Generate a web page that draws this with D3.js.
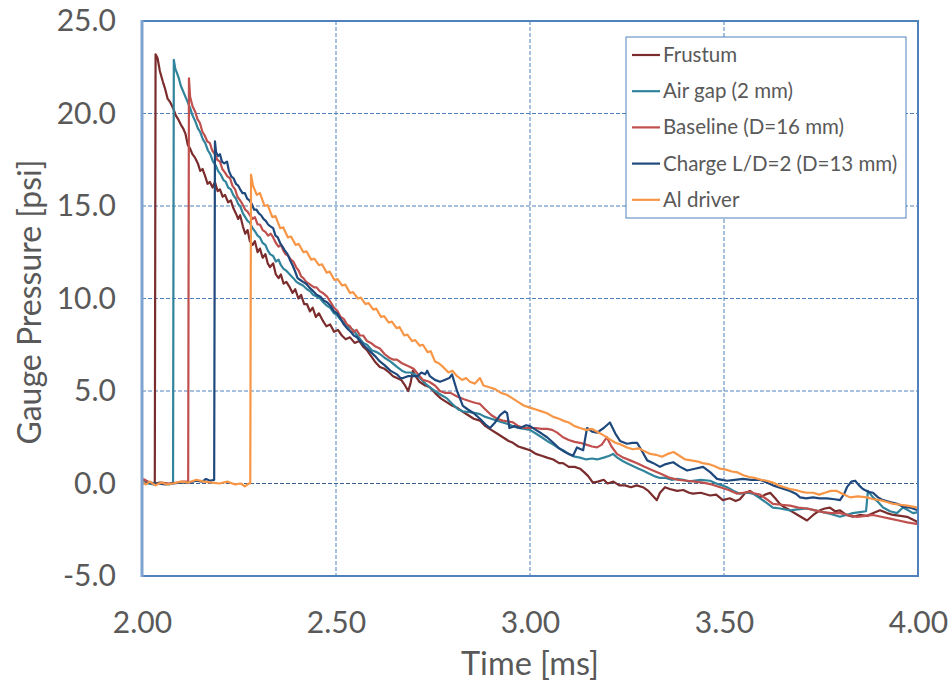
<!DOCTYPE html>
<html><head><meta charset="utf-8">
<script src="https://cdn.jsdelivr.net/npm/d3@7"></script>
<style>body{margin:0;background:#fff}svg{display:block}text{font-family:Lato,"Open Sans",sans-serif;fill:#595959}</style>
</head><body><svg id="c" width="952" height="683"></svg>
<script>
const seriesNames = ["Frustum","Air gap (2 mm)","Baseline (D=16 mm)","Charge L/D=2 (D=13 mm)","Al driver"];
const seriesColors = ["#7B2C2C","#31849B","#C0504D","#1F497D","#F79646"];
const xTicks = [2.0,2.5,3.0,3.5,4.0];
const yTicks = [-5,0,5,10,15,20,25];

const frustum = [[2.000,0.2],[2.010,0.15],[2.020,0.05],[2.030,0.0],[2.033,0.05],[2.035,23.2],[2.040,23.0],[2.046,22.3],[2.054,21.7],[2.060,21.3],[2.066,20.8],[2.073,20.6],[2.080,20.3],[2.087,19.9],[2.093,19.7],[2.100,19.4],[2.106,19.2],[2.112,18.9],[2.118,18.3],[2.124,18.1],[2.130,17.8],[2.137,17.6],[2.144,17.3],[2.150,16.9],[2.156,17.0],[2.163,16.6],[2.169,16.2],[2.175,16.3],[2.182,16.0],[2.188,16.3],[2.195,15.8],[2.201,15.9],[2.208,15.5],[2.214,15.6],[2.222,15.2],[2.229,15.3],[2.235,14.9],[2.242,14.6],[2.248,14.3],[2.253,14.5],[2.260,13.9],[2.266,13.5],[2.272,13.7],[2.278,13.1],[2.285,12.9],[2.291,13.1],[2.298,12.5],[2.304,12.7],[2.311,12.2],[2.318,12.4],[2.324,11.9],[2.330,11.7],[2.338,11.9],[2.345,11.3],[2.352,11.1],[2.358,11.3],[2.365,10.8],[2.372,10.9],[2.381,10.6],[2.388,10.3],[2.395,10.5],[2.403,10.0],[2.410,10.2],[2.418,9.7],[2.425,9.7],[2.433,9.3],[2.440,9.5],[2.448,9.0],[2.456,9.2],[2.466,8.8],[2.475,8.5],[2.485,8.6],[2.495,8.2],[2.505,8.3],[2.515,8.0],[2.525,7.8],[2.536,7.9],[2.548,7.6],[2.560,7.7],[2.570,7.4],[2.580,7.2],[2.590,6.9],[2.600,6.6],[2.613,6.3],[2.625,6.2],[2.637,6.0],[2.647,5.8],[2.657,5.7],[2.668,5.6],[2.678,5.3],[2.686,5.0],[2.692,5.4],[2.698,6.1],[2.705,5.8],[2.715,5.5],[2.730,5.3],[2.742,5.2],[2.755,4.9],[2.770,4.6],[2.785,4.4],[2.800,4.2],[2.812,4.1],[2.825,3.9],[2.840,3.7],[2.855,3.5],[2.871,3.4],[2.885,3.1],[2.900,2.9],[2.915,2.7],[2.930,2.5],[2.945,2.3],[2.956,2.2],[2.970,2.0],[2.985,1.9],[3.000,1.8],[3.015,1.6],[3.030,1.5],[3.044,1.4],[3.060,1.3],[3.075,1.1],[3.085,1.1],[3.100,0.9],[3.115,0.9],[3.129,0.8],[3.140,0.6],[3.150,0.4],[3.162,0.05],[3.175,0.1],[3.190,0.2],[3.200,0.0],[3.215,0.1],[3.230,-0.1],[3.245,-0.1],[3.260,-0.2],[3.275,-0.1],[3.291,-0.2],[3.305,-0.4],[3.318,-0.7],[3.327,-0.9],[3.335,-0.5],[3.348,-0.2],[3.360,-0.3],[3.379,-0.4],[3.395,-0.35],[3.410,-0.5],[3.420,-0.55],[3.440,-0.5],[3.464,-0.65],[3.480,-0.6],[3.497,-0.9],[3.515,-0.8],[3.530,-0.95],[3.541,-0.85],[3.555,-0.5],[3.567,-0.4],[3.580,-0.6],[3.593,-0.75],[3.606,-0.6],[3.619,-0.5],[3.632,-0.8],[3.644,-1.1],[3.657,-1.3],[3.670,-1.45],[3.690,-1.7],[3.714,-2.0],[3.730,-1.7],[3.747,-1.45],[3.760,-1.35],[3.773,-1.3],[3.786,-1.5],[3.799,-1.45],[3.815,-1.7],[3.832,-1.8],[3.850,-1.7],[3.869,-1.75],[3.885,-1.6],[3.902,-1.45],[3.920,-1.6],[3.936,-1.7],[3.955,-1.75],[3.972,-1.8],[3.986,-1.95],[4.000,-2.1]];

const airGap = [[2.000,0.1],[2.015,0.0],[2.030,-0.05],[2.045,0.05],[2.060,0.0],[2.070,-0.05],[2.080,0.05],[2.082,22.9],[2.086,22.4],[2.090,22.2],[2.095,21.9],[2.100,21.5],[2.106,21.2],[2.112,20.9],[2.118,20.6],[2.124,20.3],[2.130,19.9],[2.137,19.6],[2.144,19.2],[2.150,19.0],[2.157,18.6],[2.163,18.4],[2.170,18.0],[2.176,17.8],[2.183,17.4],[2.190,17.2],[2.196,16.9],[2.203,16.7],[2.210,16.4],[2.216,16.3],[2.222,16.0],[2.229,15.9],[2.235,15.6],[2.242,15.4],[2.248,15.1],[2.253,15.0],[2.260,14.6],[2.266,14.4],[2.272,14.2],[2.278,14.1],[2.285,13.8],[2.292,13.6],[2.298,13.4],[2.304,13.3],[2.311,13.0],[2.318,12.9],[2.324,12.6],[2.330,12.4],[2.338,12.3],[2.345,12.0],[2.352,12.1],[2.358,11.8],[2.365,11.6],[2.372,11.5],[2.381,11.3],[2.390,11.1],[2.398,10.9],[2.406,10.8],[2.415,10.7],[2.425,10.5],[2.433,10.4],[2.441,10.2],[2.450,10.1],[2.459,10.0],[2.467,9.8],[2.477,9.6],[2.485,9.5],[2.495,9.2],[2.503,9.1],[2.510,8.9],[2.520,8.7],[2.530,8.5],[2.544,8.3],[2.555,8.0],[2.570,7.6],[2.580,7.5],[2.592,7.2],[2.605,7.1],[2.613,7.0],[2.625,6.8],[2.640,6.6],[2.657,6.3],[2.670,6.1],[2.680,6.0],[2.691,6.0],[2.703,5.9],[2.716,5.7],[2.730,5.4],[2.742,5.2],[2.755,5.0],[2.770,4.8],[2.786,4.6],[2.800,4.3],[2.815,4.0],[2.827,3.9],[2.845,3.85],[2.860,3.8],[2.871,3.75],[2.885,3.6],[2.900,3.5],[2.915,3.4],[2.930,3.3],[2.945,3.2],[2.956,3.1],[2.970,3.0],[2.985,2.95],[3.000,2.9],[3.015,2.7],[3.030,2.5],[3.044,2.3],[3.060,2.1],[3.075,1.9],[3.085,1.8],[3.100,1.6],[3.115,1.45],[3.129,1.4],[3.145,1.3],[3.160,1.35],[3.173,1.3],[3.190,1.4],[3.205,1.5],[3.214,1.6],[3.225,1.4],[3.240,1.2],[3.250,1.1],[3.265,0.95],[3.280,0.8],[3.291,0.7],[3.305,0.55],[3.320,0.4],[3.335,0.3],[3.350,0.3],[3.365,0.2],[3.379,0.25],[3.395,0.2],[3.410,0.1],[3.420,0.15],[3.440,0.2],[3.464,0.15],[3.480,0.0],[3.495,-0.1],[3.508,-0.2],[3.525,-0.4],[3.541,-0.55],[3.560,-0.5],[3.575,-0.55],[3.593,-0.8],[3.610,-1.05],[3.626,-1.3],[3.645,-1.35],[3.670,-1.45],[3.690,-1.4],[3.714,-1.35],[3.735,-1.45],[3.755,-1.55],[3.775,-1.65],[3.799,-1.8],[3.815,-1.7],[3.832,-1.6],[3.850,-1.55],[3.866,-1.5],[3.871,-0.4],[3.884,-0.75],[3.897,-1.0],[3.910,-1.3],[3.928,-1.5],[3.946,-1.6],[3.961,-1.3],[3.975,-1.45],[3.987,-1.6],[4.000,-1.55]];

const baseline = [[2.000,0.25],[2.008,0.2],[2.016,0.05],[2.030,0.0],[2.050,0.05],[2.070,0.0],[2.090,0.05],[2.105,0.1],[2.119,0.1],[2.121,21.9],[2.124,20.9],[2.130,20.4],[2.137,20.1],[2.143,19.7],[2.149,19.5],[2.156,19.0],[2.162,18.8],[2.168,18.5],[2.175,18.4],[2.181,18.0],[2.188,17.8],[2.194,17.5],[2.201,17.4],[2.207,17.0],[2.214,16.8],[2.220,16.6],[2.227,16.5],[2.233,16.1],[2.240,15.9],[2.246,15.5],[2.253,15.3],[2.259,15.1],[2.266,14.8],[2.272,14.7],[2.278,14.5],[2.285,14.3],[2.291,14.4],[2.298,14.0],[2.304,14.0],[2.311,13.7],[2.318,13.6],[2.325,13.4],[2.332,13.5],[2.338,13.3],[2.345,13.0],[2.352,12.8],[2.358,12.9],[2.364,12.6],[2.370,12.4],[2.377,12.3],[2.384,12.1],[2.390,12.0],[2.397,11.7],[2.404,11.5],[2.410,11.2],[2.416,11.1],[2.423,10.9],[2.430,10.8],[2.437,10.7],[2.444,10.6],[2.450,10.6],[2.458,10.4],[2.466,10.3],[2.477,10.1],[2.486,9.8],[2.495,9.5],[2.503,9.35],[2.512,9.0],[2.520,8.9],[2.528,8.6],[2.536,8.5],[2.545,8.2],[2.553,8.3],[2.562,8.0],[2.570,8.0],[2.580,7.7],[2.590,7.6],[2.602,7.4],[2.613,7.3],[2.625,7.0],[2.637,6.8],[2.647,6.7],[2.657,6.7],[2.670,6.5],[2.680,6.4],[2.691,6.3],[2.700,6.2],[2.712,5.9],[2.724,5.6],[2.740,5.5],[2.755,5.3],[2.768,5.0],[2.780,4.9],[2.795,4.9],[2.812,4.7],[2.830,4.55],[2.845,4.45],[2.860,4.35],[2.871,4.3],[2.885,4.0],[2.900,3.7],[2.915,3.5],[2.930,3.4],[2.945,3.35],[2.956,3.3],[2.970,3.1],[2.985,3.0],[3.000,3.0],[3.015,3.0],[3.030,2.95],[3.044,2.95],[3.057,2.9],[3.070,2.75],[3.085,2.5],[3.100,2.35],[3.115,2.25],[3.129,2.2],[3.145,2.1],[3.160,2.0],[3.173,1.95],[3.185,2.1],[3.198,2.5],[3.210,2.0],[3.224,1.6],[3.240,1.4],[3.258,1.25],[3.276,1.1],[3.295,0.9],[3.317,0.7],[3.340,0.5],[3.361,0.3],[3.383,0.2],[3.405,0.15],[3.425,0.1],[3.446,0.05],[3.468,-0.05],[3.490,-0.2],[3.512,-0.35],[3.534,-0.55],[3.550,-0.5],[3.567,-0.45],[3.580,-0.55],[3.593,-0.6],[3.610,-0.85],[3.626,-1.1],[3.648,-1.15],[3.670,-1.2],[3.692,-1.3],[3.714,-1.35],[3.735,-1.45],[3.755,-1.55],[3.777,-1.6],[3.799,-1.6],[3.820,-1.7],[3.843,-1.8],[3.865,-1.75],[3.884,-1.7],[3.905,-1.8],[3.928,-1.9],[3.950,-2.0],[3.972,-2.1],[4.000,-2.2]];

const chargeLD2 = [[2.000,0.0],[2.020,0.05],[2.040,0.0],[2.060,-0.05],[2.080,0.0],[2.100,0.05],[2.120,0.05],[2.140,0.15],[2.155,0.1],[2.165,0.25],[2.175,0.15],[2.186,0.2],[2.188,18.5],[2.191,17.9],[2.196,17.7],[2.201,17.8],[2.206,17.4],[2.212,17.3],[2.219,17.4],[2.224,16.9],[2.230,16.6],[2.236,16.5],[2.242,16.2],[2.248,16.1],[2.253,15.9],[2.259,15.7],[2.265,15.7],[2.271,15.4],[2.277,15.3],[2.283,15.1],[2.289,14.8],[2.295,14.8],[2.301,14.6],[2.307,14.5],[2.313,14.3],[2.319,14.2],[2.325,14.0],[2.331,13.9],[2.338,13.8],[2.344,13.4],[2.350,13.3],[2.356,13.0],[2.362,12.8],[2.368,12.6],[2.375,12.4],[2.381,12.1],[2.388,11.8],[2.394,11.5],[2.401,11.1],[2.408,11.0],[2.415,10.9],[2.423,10.8],[2.431,10.6],[2.441,10.4],[2.450,10.2],[2.460,10.1],[2.468,9.9],[2.477,9.8],[2.486,9.6],[2.495,9.3],[2.503,9.2],[2.512,8.9],[2.520,8.6],[2.528,8.4],[2.538,8.2],[2.546,8.0],[2.554,7.9],[2.562,7.7],[2.570,7.5],[2.580,7.3],[2.590,7.1],[2.600,6.9],[2.613,6.6],[2.625,6.4],[2.640,6.1],[2.657,5.9],[2.666,5.7],[2.673,5.7],[2.685,5.8],[2.698,5.8],[2.710,5.8],[2.720,6.0],[2.730,5.9],[2.735,6.1],[2.742,5.8],[2.755,5.6],[2.768,5.5],[2.780,5.6],[2.792,5.7],[2.799,5.9],[2.812,5.0],[2.827,4.2],[2.840,4.0],[2.855,3.8],[2.871,3.5],[2.885,3.2],[2.897,3.0],[2.910,3.3],[2.923,3.7],[2.935,3.9],[2.941,3.8],[2.947,3.0],[2.960,3.1],[2.975,3.0],[2.990,3.15],[3.000,3.1],[3.015,2.9],[3.030,2.7],[3.044,2.5],[3.060,2.2],[3.075,1.9],[3.090,1.7],[3.100,1.6],[3.111,1.5],[3.121,1.95],[3.137,1.8],[3.147,3.0],[3.160,2.8],[3.173,2.75],[3.190,3.0],[3.206,3.3],[3.220,2.7],[3.232,2.3],[3.250,2.15],[3.264,2.2],[3.276,2.2],[3.290,1.7],[3.302,1.25],[3.318,1.1],[3.335,0.9],[3.350,1.05],[3.369,1.15],[3.387,0.9],[3.405,0.7],[3.425,0.8],[3.446,0.9],[3.465,0.6],[3.482,0.25],[3.495,0.2],[3.508,0.15],[3.528,0.2],[3.549,0.25],[3.570,0.2],[3.593,0.2],[3.610,0.05],[3.626,-0.1],[3.648,-0.25],[3.670,-0.4],[3.685,-0.55],[3.696,-0.75],[3.712,-0.8],[3.729,-0.75],[3.747,-0.8],[3.765,-0.8],[3.785,-0.85],[3.799,-0.9],[3.810,-0.55],[3.817,-0.2],[3.828,0.1],[3.838,0.15],[3.848,-0.1],[3.858,-0.3],[3.872,-0.45],[3.884,-0.5],[3.897,-0.75],[3.910,-0.9],[3.928,-1.0],[3.946,-1.1],[3.962,-1.25],[3.979,-1.3],[4.000,-1.45]];

const alDriver = [[2.000,0.1],[2.010,-0.05],[2.020,0.1],[2.035,-0.1],[2.050,0.05],[2.065,-0.05],[2.080,0.0],[2.100,0.1],[2.120,0.05],[2.140,0.2],[2.160,0.1],[2.180,0.05],[2.200,0.0],[2.220,0.1],[2.240,-0.05],[2.255,0.0],[2.265,-0.15],[2.275,0.0],[2.279,0.0],[2.281,16.7],[2.286,16.1],[2.296,15.6],[2.304,15.7],[2.316,15.0],[2.324,15.05],[2.336,14.4],[2.344,14.45],[2.356,13.8],[2.364,13.85],[2.376,13.3],[2.384,13.35],[2.396,12.9],[2.404,12.95],[2.416,12.5],[2.424,12.55],[2.436,12.1],[2.444,12.15],[2.456,11.8],[2.464,11.85],[2.476,11.4],[2.484,11.45],[2.496,11.0],[2.504,11.05],[2.516,10.7],[2.524,10.75],[2.536,10.3],[2.544,10.35],[2.556,10.0],[2.564,10.05],[2.576,9.7],[2.584,9.75],[2.596,9.4],[2.604,9.45],[2.616,9.0],[2.624,9.05],[2.636,8.7],[2.644,8.75],[2.656,8.4],[2.664,8.45],[2.676,8.0],[2.684,8.05],[2.696,7.7],[2.704,7.75],[2.716,7.45],[2.724,7.5],[2.736,7.1],[2.744,7.15],[2.755,6.6],[2.765,6.5],[2.776,6.3],[2.790,6.0],[2.800,6.1],[2.812,5.8],[2.825,5.6],[2.835,5.7],[2.845,5.5],[2.858,5.4],[2.871,5.7],[2.880,5.3],[2.895,5.2],[2.910,5.1],[2.925,4.9],[2.940,4.8],[2.955,4.6],[2.970,4.4],[2.985,4.2],[3.000,4.1],[3.015,4.0],[3.030,3.9],[3.044,3.8],[3.060,3.6],[3.075,3.5],[3.085,3.4],[3.100,3.3],[3.115,3.1],[3.129,3.0],[3.145,2.9],[3.160,2.95],[3.173,2.8],[3.190,2.6],[3.205,2.4],[3.220,2.2],[3.235,2.1],[3.250,1.95],[3.265,1.85],[3.280,1.9],[3.295,1.75],[3.310,1.6],[3.325,1.55],[3.340,1.45],[3.355,1.6],[3.370,1.7],[3.385,1.5],[3.400,1.3],[3.415,1.25],[3.430,1.2],[3.445,1.1],[3.460,1.05],[3.475,0.95],[3.490,0.8],[3.505,0.75],[3.520,0.65],[3.535,0.6],[3.550,0.45],[3.565,0.35],[3.580,0.3],[3.595,0.2],[3.610,0.15],[3.626,0.05],[3.640,-0.1],[3.655,-0.2],[3.670,-0.3],[3.685,-0.35],[3.700,-0.45],[3.714,-0.5],[3.730,-0.5],[3.745,-0.6],[3.760,-0.5],[3.775,-0.4],[3.791,-0.4],[3.805,-0.55],[3.825,-0.75],[3.845,-0.7],[3.869,-0.75],[3.885,-0.85],[3.902,-0.9],[3.920,-1.0],[3.936,-1.1],[3.955,-1.15],[3.972,-1.2],[3.986,-1.25],[4.000,-1.3]];

const seriesData = [frustum, airGap, baseline, chargeLD2, alDriver];

const svg = d3.select("#c");
const L = 142, R = 918, T = 21, B = 576;
const x = d3.scaleLinear().domain([2, 4]).range([L, R]);
const y = d3.scaleLinear().domain([-5, 25]).range([B, T]);

// gridlines
const grid = svg.append("g");
grid.selectAll("line.h").data(yTicks.filter(v => v > -5 && v < 25)).enter().append("line")
  .attr("x1", L).attr("x2", R).attr("y1", d => y(d)).attr("y2", d => y(d))
  .attr("stroke", d => d === 0 ? "#3A5F8F" : "#4F81BD").attr("stroke-width", 1).attr("stroke-dasharray", "4,2");
grid.selectAll("line.v").data(xTicks.filter(v => v > 2 && v < 4)).enter().append("line")
  .attr("y1", T).attr("y2", B).attr("x1", d => x(d)).attr("x2", d => x(d))
  .attr("stroke", "#4F81BD").attr("stroke-width", 1).attr("stroke-dasharray", "4,2");

// series
const line = d3.line().x(d => x(d[0])).y(d => y(d[1]));
const g = svg.append("g");
seriesData.forEach((s, i) => {
  g.append("path").datum(s).attr("d", line).attr("fill", "none")
    .attr("stroke", seriesColors[i]).attr("stroke-width", 2.2).attr("stroke-linejoin", "round");
});

// border
svg.append("rect").attr("x", L).attr("y", T).attr("width", R - L).attr("height", B - T)
  .attr("fill", "none").attr("stroke", "#4F81BD").attr("stroke-width", 2);
svg.append("line").attr("x1", L).attr("x2", L).attr("y1", T - 1).attr("y2", B + 1)
  .attr("stroke", "#7FA3D0").attr("stroke-width", 3);

// axes with d3
const fmtY = v => d3.format(".1f")(v).replace("\u2212", "-");
const yAxis = d3.axisLeft(y).tickValues(yTicks).tickFormat(fmtY).tickSize(0).tickPadding(26);
const ya = svg.append("g").attr("transform", `translate(${L},0)`).call(yAxis);
ya.select(".domain").remove();
ya.selectAll("text").attr("font-size", 30).attr("fill", "#595959").attr("font-family", "Lato");

const xAxis = d3.axisBottom(x).tickValues(xTicks).tickFormat(d3.format(".2f")).tickSize(0).tickPadding(36);
const xa = svg.append("g").attr("transform", `translate(0,${B})`).call(xAxis);
xa.select(".domain").remove();
xa.selectAll("text").attr("font-size", 30).attr("fill", "#595959").attr("font-family", "Lato");

// titles
svg.append("text").attr("x", 530).attr("y", 675).attr("text-anchor", "middle")
  .attr("font-size", 32.5).text("Time [ms]");
svg.append("text").attr("transform", `translate(41,${302}) rotate(-90)`).attr("text-anchor", "middle")
  .attr("font-size", 32).text("Gauge Pressure [psi]");

// legend
const lg = svg.append("g");
lg.append("rect").attr("x", 626).attr("y", 37).attr("width", 280).attr("height", 181)
  .attr("fill", "#fff").attr("stroke", "#4F81BD").attr("stroke-width", 1);
seriesNames.forEach((n, i) => {
  const yy = 55 + i * 36.2;
  lg.append("line").attr("x1", 632).attr("x2", 660).attr("y1", yy).attr("y2", yy)
    .attr("stroke", seriesColors[i]).attr("stroke-width", 2.2);
  lg.append("text").attr("x", 663).attr("y", yy + 7).attr("font-size", 20.5).text(n);
});
</script></body></html>
